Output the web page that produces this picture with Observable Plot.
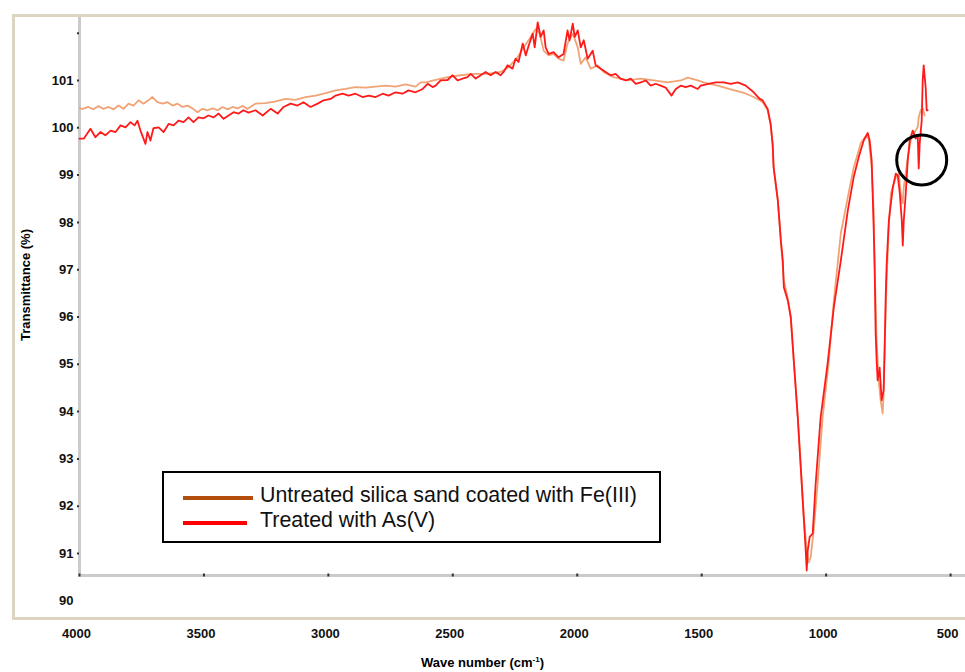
<!DOCTYPE html>
<html><head><meta charset="utf-8">
<script src="https://cdn.jsdelivr.net/npm/d3@7"></script>
<script src="https://cdn.jsdelivr.net/npm/@observablehq/plot@0.6"></script>
<style>
body{margin:0;background:#fff;}
#wrap{position:relative;width:965px;height:672px;overflow:hidden;font-family:"Liberation Sans",Arial,sans-serif;background:#fff;}
#frame{position:absolute;left:12px;top:14px;width:990px;height:606px;border:3px solid #dcd5c1;box-sizing:border-box;}
#chart{position:absolute;left:0;top:0;}
#legend{position:absolute;left:162px;top:471px;width:499px;height:72px;border:2px solid #000;box-sizing:border-box;background:#fff;}
.lg-line{position:absolute;height:4px;}
.lg-text{position:absolute;font-size:21.4px;color:#111;white-space:nowrap;line-height:1;}
#xtitle{position:absolute;left:0;width:965px;top:655px;text-align:center;font-weight:bold;font-size:13px;font-family:"Liberation Sans Narrow","Liberation Sans",Arial,sans-serif;}
#ytitle{position:absolute;left:25px;top:285px;transform:translate(-50%,-50%) rotate(-90deg);font-weight:bold;font-size:13px;white-space:nowrap;font-family:"Liberation Sans Narrow","Liberation Sans",Arial,sans-serif;}
</style></head>
<body>
<div id="wrap">
  <div id="frame"></div>
  <div id="chart"></div>
  <div id="legend"></div>
  <div id="ytitle">Transmittance (%)</div>
  <div id="xtitle">Wave number (cm<sup style="font-size:8px">-1</sup>)</div>
</div>
<script>
// ---- Data ----
const seriesNames = ["Untreated silica sand coated with Fe(III)", "Treated with As(V)"];
const lineColors = ["#f0a374", "#ff1a1a"];
const legendColors = ["#b34d0c", "#ff0000"];

const untreatedWn = [4000,3988,3964,3944,3924,3904,3883,3863,3843,3823,3803,3783,3763,3743,3723,3707,3687,3666,3646,3626,3606,3586,3566,3546,3526,3506,3486,3465,3445,3425,3405,3385,3365,3345,3325,3293,3252,3212,3172,3132,3092,3051,3011,2971,2931,2891,2850,2810,2770,2730,2690,2650,2629,2609,2577,2521,2469,2416,2360,2308,2276,2240,2215,2187,2167,2151,2135,2115,2095,2075,2055,2039,2018,1998,1986,1966,1946,1918,1894,1854,1797,1745,1693,1637,1584,1556,1516,1492,1436,1383,1331,1291,1267,1255,1235,1223,1215,1211,1194,1182,1170,1154,1142,1130,1114,1102,1090,1078,1070,1062,1050,1034,1014,990,969,941,913,889,861,841,829,817,809,805,797,789,781,773,769,765,757,748,740,720,708,700,692,688,672,660,648,632,628,620,612,604];
const untreatedT = [100.41,100.40,100.44,100.39,100.46,100.40,100.44,100.39,100.47,100.40,100.51,100.47,100.58,100.51,100.58,100.65,100.54,100.51,100.54,100.47,100.51,100.44,100.47,100.41,100.33,100.40,100.37,100.41,100.37,100.44,100.39,100.44,100.41,100.46,100.40,100.51,100.52,100.56,100.61,100.59,100.65,100.68,100.73,100.79,100.82,100.86,100.85,100.87,100.89,100.87,100.92,100.87,100.96,100.96,101.00,101.07,101.11,101.14,101.14,101.18,101.28,101.49,101.70,101.92,102.09,101.99,101.63,101.53,101.56,101.46,101.42,101.78,101.99,101.70,101.35,101.49,101.25,101.32,101.18,101.07,101.00,101.04,101.00,100.96,101.00,101.06,101.00,100.96,100.89,100.81,100.74,100.65,100.58,100.54,100.37,100.07,99.65,99.16,98.46,97.62,96.77,96.39,95.97,95.08,93.90,92.86,91.80,91.06,90.81,90.92,91.49,92.48,93.88,95.02,96.35,97.77,98.53,99.16,99.67,99.82,99.77,99.16,98.25,97.05,95.50,94.66,94.24,93.96,94.34,95.29,96.77,97.93,98.61,98.95,99.03,98.61,98.40,98.74,99.37,99.73,99.88,100.01,100.22,100.37,100.41,100.26];

const treatedWn = [4000,3983,3956,3936,3916,3896,3875,3855,3835,3815,3795,3779,3767,3755,3735,3727,3715,3703,3682,3662,3642,3622,3602,3582,3562,3542,3522,3502,3482,3461,3441,3421,3401,3381,3361,3341,3321,3293,3264,3232,3204,3180,3152,3124,3100,3072,3043,3019,2991,2971,2943,2919,2891,2863,2838,2810,2782,2758,2730,2702,2678,2650,2621,2601,2581,2569,2549,2521,2501,2481,2461,2441,2428,2408,2388,2368,2348,2328,2308,2296,2280,2260,2248,2236,2219,2207,2195,2179,2171,2159,2147,2135,2127,2115,2095,2075,2055,2039,2031,2018,2010,1998,1986,1974,1958,1938,1926,1906,1886,1866,1846,1826,1805,1785,1765,1745,1725,1705,1685,1665,1645,1621,1604,1584,1564,1544,1516,1504,1444,1412,1383,1355,1323,1291,1267,1255,1235,1223,1215,1211,1194,1182,1174,1170,1154,1142,1130,1114,1102,1090,1082,1078,1074,1066,1054,1042,1022,994,969,941,913,889,869,849,833,825,817,813,809,805,801,797,793,785,781,777,769,765,761,757,748,732,720,712,704,696,692,688,680,672,664,652,640,632,628,624,616,612,608,600,596,592];
const treatedT = [99.77,99.77,99.98,99.80,99.91,99.84,99.94,99.91,100.05,100.01,100.12,100.05,100.15,99.94,99.66,99.91,99.73,99.99,100.01,99.91,100.08,100.05,100.15,100.12,100.22,100.12,100.22,100.20,100.26,100.22,100.30,100.19,100.26,100.33,100.30,100.37,100.32,100.37,100.26,100.40,100.30,100.44,100.51,100.47,100.54,100.44,100.51,100.58,100.61,100.68,100.72,100.68,100.72,100.65,100.68,100.65,100.72,100.68,100.75,100.72,100.79,100.75,100.82,100.93,100.86,100.89,101.00,101.01,101.11,101.00,101.04,101.07,101.14,101.04,101.11,101.18,101.11,101.18,101.11,101.18,101.32,101.25,101.46,101.39,101.78,101.53,101.74,101.99,101.70,102.23,101.92,102.06,101.70,101.56,101.60,101.49,101.56,102.06,101.85,102.20,101.92,102.06,101.70,101.85,101.46,101.63,101.32,101.25,101.18,101.11,101.14,101.04,101.00,101.04,100.93,100.96,101.00,100.89,100.93,100.89,100.85,100.68,100.82,100.89,100.86,100.89,100.82,100.89,100.96,100.96,100.93,100.96,100.89,100.75,100.61,100.58,100.40,100.08,99.66,99.17,98.46,97.62,97.19,96.63,96.35,96.00,95.08,93.88,92.82,91.77,91.06,90.64,91.06,91.35,91.42,92.48,93.88,95.02,96.21,97.19,98.25,98.96,99.38,99.73,99.89,99.73,99.31,98.61,97.89,97.05,95.65,95.08,94.66,94.93,94.59,94.24,94.45,95.29,96.35,97.09,98.04,98.74,99.03,98.99,98.61,98.04,97.51,98.04,98.61,99.31,99.73,99.94,99.77,99.84,99.14,99.67,100.15,101.00,101.32,100.85,100.37,100.37];

const highlightCircle = [{wn: 616, t: 99.32}];

const xTicks = [4000, 3500, 3000, 2500, 2000, 1500, 1000, 500];
const yTickLabels = [90, 91, 92, 93, 94, 95, 96, 97, 98, 99, 100, 101];
const yTickDots = [91, 92, 93, 94, 95, 96, 97, 98, 99, 100, 101, 102];
const xDomain = [4000, 440];
const yDomain = [90.535, 102.31];

// ---- Build table ----
const untreated = untreatedWn.map((w, i) => ({wn: w, t: untreatedT[i], s: seriesNames[0]}));
const treated = treatedWn.map((w, i) => ({wn: w, t: treatedT[i], s: seriesNames[1]}));

const plot = Plot.plot({
  width: 965,
  height: 672,
  marginLeft: 79,
  marginRight: 0,
  marginTop: 18,
  marginBottom: 97,
  style: {background: "transparent", fontFamily: "'Liberation Sans Narrow','Liberation Sans',Arial,sans-serif"},
  x: {domain: xDomain},
  y: {domain: yDomain},
  marks: [
    Plot.frame({anchor: "left", stroke: "#cbcbcb", strokeWidth: 3, strokeOpacity: 1}),
    Plot.frame({anchor: "bottom", stroke: "#cbcbcb", strokeWidth: 3, strokeOpacity: 1}),
    Plot.axisY({ticks: yTickDots, tickSize: 2, tickFormat: () => "", stroke: "#333", strokeWidth: 2, strokeOpacity: 1, label: null}),
    Plot.axisY({ticks: yTickLabels, tickSize: 0, tickPadding: 6, fontSize: 13, fontWeight: "bold", fill: "#111", tickFormat: d => String(d), label: null}),
    Plot.axisX({ticks: xTicks, tickSize: 3, dy: -1.5, tickFormat: () => "", stroke: "#333", strokeWidth: 2, strokeOpacity: 1, label: null}),
    Plot.axisX({ticks: xTicks, tickSize: 0, tickPadding: 53, fontSize: 13, fontWeight: "bold", fill: "#111", dx: -3, tickFormat: d => String(d), label: null}),
    Plot.line(untreated, {x: "wn", y: "t", stroke: lineColors[0], strokeWidth: 1.8}),
    Plot.line(treated, {x: "wn", y: "t", stroke: lineColors[1], strokeWidth: 1.8}),
    Plot.dot(highlightCircle, {x: "wn", y: "t", r: 25, stroke: "#000", strokeWidth: 3, fill: "none"})
  ]
});
document.getElementById("chart").appendChild(plot);

// ---- Legend ----
const lg = document.getElementById("legend");
const lgLines = [{left: 19, top: 23, w: 70}, {left: 19, top: 48, w: 64}];
const lgText = [{left: 96, top: 12}, {left: 96, top: 37}];
seriesNames.forEach((name, i) => {
  const l = document.createElement("div");
  l.className = "lg-line";
  l.style.left = lgLines[i].left + "px";
  l.style.top = lgLines[i].top + "px";
  l.style.width = lgLines[i].w + "px";
  l.style.background = legendColors[i];
  lg.appendChild(l);
  const t = document.createElement("div");
  t.className = "lg-text";
  t.style.left = lgText[i].left + "px";
  t.style.top = lgText[i].top + "px";
  t.textContent = name;
  lg.appendChild(t);
});
</script>
</body></html>
